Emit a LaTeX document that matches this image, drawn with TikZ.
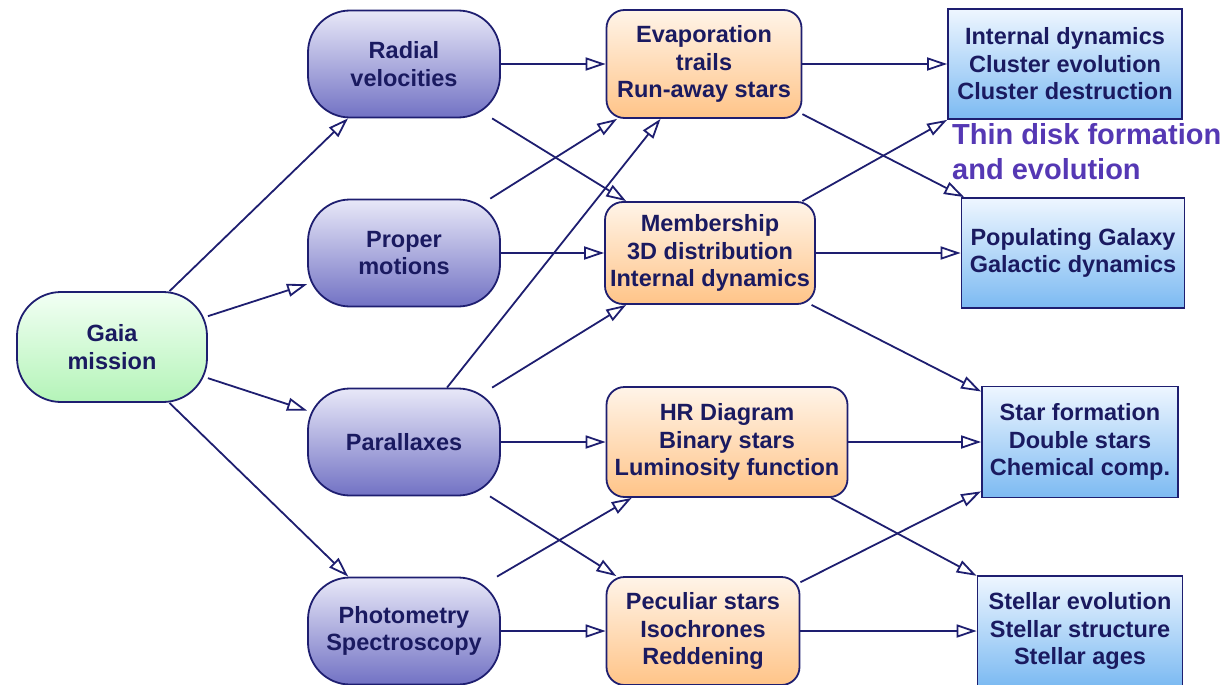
\documentclass[tikz,border=0pt]{standalone}
\usepackage{fontspec}
\setmainfont{Liberation Sans}
\usetikzlibrary{arrows.meta}
\definecolor{txt}{HTML}{1A1A60}
\definecolor{edgec}{HTML}{1E1E70}
\definecolor{pTop}{HTML}{E8E8F8}
\definecolor{pBot}{HTML}{7272C4}
\definecolor{oTop}{HTML}{FFF4E8}
\definecolor{oBot}{HTML}{FFC488}
\definecolor{bTop}{HTML}{EEF6FF}
\definecolor{bBot}{HTML}{7CBAF2}
\definecolor{gTop}{HTML}{F2FFF4}
\definecolor{gBot}{HTML}{B4F4B8}
\definecolor{thin}{HTML}{5538B4}
\begin{document}
\begin{tikzpicture}[x=1pt,y=-1pt,
  box/.style={draw=edgec, line width=1.8pt, inner sep=0pt, align=center, text=txt,
    font=\bfseries\fontsize{23.5}{27.5}\selectfont},
  gnode/.style={box, rounded corners=44pt, top color=gTop, bottom color=gBot},
  pnode/.style={box, rounded corners=42pt, top color=pTop, bottom color=pBot,
    minimum width=192pt, minimum height=107pt},
  onode/.style={box, rounded corners=18pt, top color=oTop, bottom color=oBot},
  bnode/.style={box, top color=bTop, bottom color=bBot},
  arr/.style={draw=edgec, line width=1.8pt,
    -{Triangle[open, fill=white, length=20pt, width=13pt, line width=1.8pt]}}
]
\useasboundingbox (0,0) rectangle (1231,685);
% left
\node[gnode, minimum width=190pt, minimum height=110pt] (gaia) at (112,347) {Gaia\\mission};
% purple
\node[pnode] (rad) at (404,64) {Radial\\velocities};
\node[pnode] (prop) at (404,253) {Proper\\motions};
\node[pnode] (par) at (404,442) {Parallaxes};
\node[pnode] (phot) at (404,631) {Photometry\\Spectroscopy};
% orange
\node[onode, minimum width=195pt, minimum height=108pt] (evap) at (704,64) {Evaporation\\trails\\Run-away stars};
\node[onode, minimum width=210pt, minimum height=102pt] (mem) at (710,253) {Membership\\3D distribution\\Internal dynamics};
\node[onode, minimum width=241pt, minimum height=110pt] (hr) at (727,442) {HR Diagram\\Binary stars\\Luminosity function};
\node[onode, minimum width=193pt, minimum height=108pt] (pec) at (703,631) {Peculiar stars\\Isochrones\\Reddening};
% blue
\node[bnode, minimum width=234pt, minimum height=110pt] (int) at (1065,64) {Internal dynamics\\Cluster evolution\\Cluster destruction};
\node[bnode, minimum width=223pt, minimum height=110pt] (pop) at (1073,253) {Populating Galaxy\\Galactic dynamics};
\node[bnode, minimum width=196pt, minimum height=111pt] (sf) at (1080,442) {Star formation\\Double stars\\Chemical comp.};
\node[bnode, minimum width=205pt, minimum height=110pt] (se) at (1080,631) {Stellar evolution\\Stellar structure\\Stellar ages};
% thin disk label
\node[anchor=west, align=left, inner sep=0pt, text=thin,
  font=\bfseries\fontsize{29}{35}\selectfont] (thin) at (952,152) {Thin disk formation\\and evolution};
% edges
\draw[arr] (gaia) -- (rad);
\draw[arr] (gaia) -- (prop);
\draw[arr] (gaia) -- (par);
\draw[arr] (gaia) -- (phot);
\draw[arr] (rad) -- (evap);
\draw[arr] (rad) -- (mem);
\draw[arr] (prop) -- (evap);
\draw[arr] (prop) -- (mem);
\draw[arr] (par) -- (evap);
\draw[arr] (par) -- (mem);
\draw[arr] (par) -- (hr);
\draw[arr] (par) -- (pec);
\draw[arr] (phot) -- (hr);
\draw[arr] (phot) -- (pec);
\draw[arr] (evap) -- (int);
\draw[arr] (evap) -- (pop);
\draw[arr] (mem) -- (int.south west);
\draw[arr] (mem) -- (pop);
\draw[arr] (mem) -- (sf);
\draw[arr] (hr) -- (sf);
\draw[arr] (hr) -- (se);
\draw[arr] (pec) -- (sf);
\draw[arr] (pec) -- (se);
\end{tikzpicture}
\end{document}
